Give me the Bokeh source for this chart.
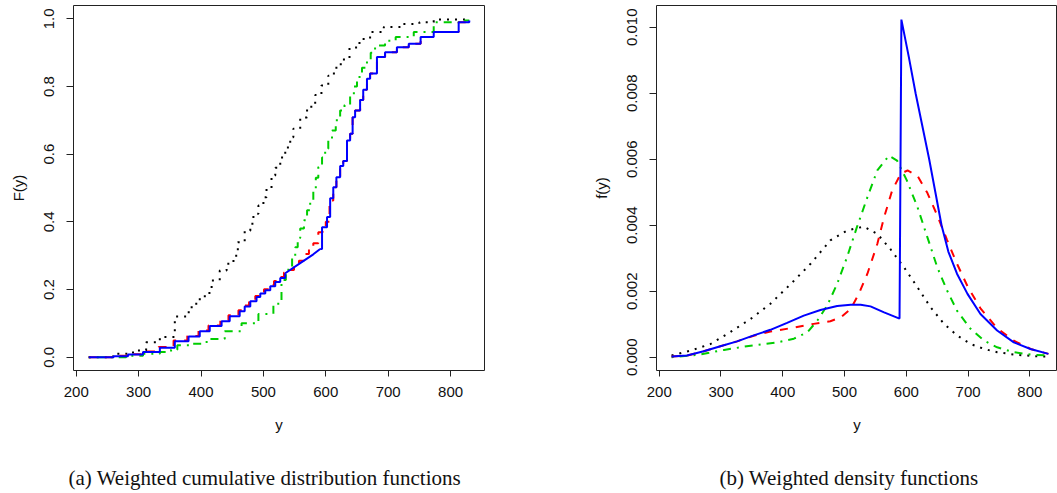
from bokeh.plotting import figure
from bokeh.models import FixedTicker, PrintfTickFormatter, Range1d, Label
from bokeh.layouts import row, column
from bokeh.embed import file_html
from bokeh.resources import INLINE

# ---------------- data: (a) weighted CDFs (step functions) ----------------
black_cdf_x = [220, 259, 291, 312, 334, 358, 377, 385, 398, 409, 417, 430, 441, 452, 459, 470,
               479, 484, 492, 500, 505, 513, 519, 527, 535, 543, 548, 559, 570, 583, 593, 604,
               613, 624, 638, 654, 671, 693, 720, 750, 773, 830]
black_cdf_y = [0.000, 0.010, 0.020, 0.044, 0.060, 0.120, 0.133, 0.158, 0.180, 0.190, 0.227, 0.256,
               0.276, 0.300, 0.340, 0.374, 0.394, 0.424, 0.448, 0.473, 0.498, 0.537, 0.560, 0.590,
               0.620, 0.650, 0.675, 0.708, 0.740, 0.775, 0.803, 0.832, 0.855, 0.880, 0.915, 0.940,
               0.961, 0.976, 0.985, 0.990, 0.998, 1.000]

green_cdf_x = [220, 280, 307, 334, 352, 362, 386, 409, 438, 465, 492, 516, 529, 536, 540, 546,
               551, 555, 559, 565, 570, 575, 580, 584, 588, 594, 599, 604, 610, 616, 623, 630,
               639, 645, 650, 658, 666, 672, 679, 695, 712, 741, 773, 813, 830]
green_cdf_y = [0.000, 0.004, 0.010, 0.015, 0.022, 0.035, 0.040, 0.054, 0.077, 0.100, 0.128, 0.158,
               0.228, 0.250, 0.266, 0.295, 0.325, 0.352, 0.380, 0.405, 0.434, 0.465, 0.498, 0.530,
               0.562, 0.590, 0.616, 0.645, 0.670, 0.700, 0.729, 0.745, 0.774, 0.800, 0.828, 0.855,
               0.877, 0.900, 0.921, 0.935, 0.946, 0.961, 0.990, 0.995, 0.995]

red_cdf_x = [220, 258, 281, 305, 332, 356, 378, 396, 412, 431, 444, 460, 468, 477, 487, 493,
             501, 509, 517, 525, 533, 541, 549, 557, 565, 573, 580, 588, 595, 600, 606, 612,
             617, 623, 628, 634, 639, 643, 647, 655, 660, 666, 671, 682, 695, 714, 733, 752,
             773, 813, 830]
red_cdf_y = [0.000, 0.004, 0.009, 0.017, 0.030, 0.049, 0.063, 0.079, 0.094, 0.109, 0.124, 0.139,
             0.153, 0.168, 0.181, 0.191, 0.201, 0.213, 0.225, 0.237, 0.250, 0.258, 0.272, 0.285,
             0.305, 0.322, 0.337, 0.369, 0.385, 0.400, 0.463, 0.502, 0.532, 0.565, 0.580, 0.640,
             0.660, 0.709, 0.729, 0.760, 0.790, 0.823, 0.838, 0.887, 0.901, 0.916, 0.926, 0.946,
             0.961, 0.990, 0.995]

blue_cdf_low_x = [220, 260, 283, 307, 334, 358, 380, 398, 414, 433, 446, 462, 470, 479, 489, 495,
                  503, 511, 519, 527, 535]
blue_cdf_low_y = [0.000, 0.003, 0.008, 0.015, 0.028, 0.047, 0.061, 0.077, 0.092, 0.106, 0.121,
                  0.136, 0.150, 0.165, 0.178, 0.188, 0.198, 0.210, 0.222, 0.234, 0.248]
blue_cdf_mid_x = [535, 559, 580, 591]
blue_cdf_mid_y = [0.248, 0.278, 0.304, 0.320]
blue_cdf_high_x = [591, 594, 602, 607, 612, 617, 623, 628, 634, 639, 643, 647, 655, 660, 666, 671,
                   682, 695, 714, 733, 752, 773, 813, 830]
blue_cdf_high_y = [0.320, 0.384, 0.414, 0.470, 0.502, 0.532, 0.565, 0.580, 0.640, 0.660, 0.709,
                   0.729, 0.760, 0.790, 0.823, 0.838, 0.887, 0.901, 0.916, 0.926, 0.946, 0.961,
                   0.990, 0.995]

# ---------------- data: (b) weighted densities ----------------
black_pdf_x = [220, 251, 283, 315, 348, 380, 413, 445, 477, 504, 531, 553, 574, 596, 618, 639,
               661, 682, 704, 726, 747, 779, 817, 830]
black_pdf_y = [0.00005, 0.00020, 0.00040, 0.00076, 0.00116, 0.00162, 0.00222, 0.00283, 0.00354,
               0.00384, 0.00396, 0.00374, 0.00328, 0.00273, 0.00212, 0.00152, 0.00101, 0.00066,
               0.00040, 0.00025, 0.00015, 0.00007, 0.00002, 0.00002]

green_pdf_x = [220, 262, 305, 348, 391, 418, 440, 456, 472, 488, 504, 520, 537, 553, 572, 585,
               601, 618, 634, 650, 666, 682, 704, 726, 747, 774, 801, 830]
green_pdf_y = [0.00000, 0.00007, 0.00022, 0.00035, 0.00045, 0.00056, 0.00076, 0.00111, 0.00157,
               0.00222, 0.00303, 0.00394, 0.00485, 0.00566, 0.00611, 0.00596, 0.00535, 0.00455,
               0.00364, 0.00273, 0.00202, 0.00141, 0.00086, 0.00050, 0.00030, 0.00015, 0.00008,
               0.00005]

red_pdf_x = [220, 245, 272, 299, 326, 353, 380, 413, 450, 477, 494, 510, 523, 537, 553, 564,
             577, 591, 602, 618, 634, 650, 666, 682, 699, 720, 747, 774, 801, 830]
red_pdf_y = [0.00002, 0.00005, 0.00018, 0.00033, 0.00048, 0.00065, 0.00078, 0.00088, 0.00101,
             0.00109, 0.00121, 0.00146, 0.00192, 0.00253, 0.00343, 0.00424, 0.00505, 0.00556,
             0.00566, 0.00550, 0.00498, 0.00430, 0.00355, 0.00283, 0.00215, 0.00148, 0.00088,
             0.00050, 0.00025, 0.00010]

blue_pdf_x = [220, 245, 272, 299, 326, 353, 380, 407, 434, 461, 488, 510, 526, 542, 564, 589,
              592, 604, 615, 626, 637, 647, 657, 668, 682, 699, 720, 747, 774, 801, 830]
blue_pdf_y = [0.00002, 0.00005, 0.00018, 0.00033, 0.00048, 0.00066, 0.00083, 0.00104, 0.00126,
              0.00143, 0.00155, 0.00159, 0.00159, 0.00154, 0.00136, 0.00117, 0.01023, 0.00910,
              0.00800, 0.00700, 0.00600, 0.00500, 0.00400, 0.00320, 0.00253, 0.00192, 0.00131,
              0.00081, 0.00045, 0.00025, 0.00010]

cdf_ticks = [0.0, 0.2, 0.4, 0.6, 0.8, 1.0]
pdf_ticks = [0.000, 0.002, 0.004, 0.006, 0.008, 0.010]
x_ticks = [200, 300, 400, 500, 600, 700, 800]

caption_a = "(a) Weighted cumulative distribution functions"
caption_b = "(b) Weighted density functions"

# ---------------- styles ----------------
SANS = "Liberation Sans"
SERIF = "Liberation Serif"
BLACK = "#000000"
RED = "#FF0000"
GREEN = "#00CD00"
BLUE = "#0000FF"

PLOT_H = 440
CAP_H = 53
FRAME_TOP = 5
FRAME_BOTTOM = 370


def make_fig(width, bl, br, xr, yr, yticks, yfmt, yb, ylabel):
    p = figure(width=width, height=PLOT_H, output_backend="svg", toolbar_location=None,
               x_range=Range1d(*xr), y_range=Range1d(*yr),
               min_border_left=bl, min_border_right=br, min_border_top=FRAME_TOP,
               min_border_bottom=PLOT_H - FRAME_BOTTOM)
    p.xgrid.visible = False
    p.ygrid.visible = False
    p.background_fill_color = "white"
    p.border_fill_color = "white"
    p.outline_line_color = "#222222"
    p.outline_line_width = 1
    for ax in (p.xaxis[0], p.yaxis[0]):
        ax.axis_line_color = "#222222"
        ax.major_tick_line_color = "#222222"
        ax.minor_tick_line_color = None
        ax.major_tick_in = 0
        ax.major_label_text_font = SANS
        ax.major_label_text_font_size = "15px"
        ax.major_label_text_color = "#111111"
        ax.axis_label_text_font = SANS
        ax.axis_label_text_font_size = "15px"
        ax.axis_label_text_font_style = "normal"
        ax.axis_label_text_color = "#111111"
    xa = p.xaxis[0]
    xa.ticker = FixedTicker(ticks=x_ticks)
    xa.bounds = (x_ticks[0], x_ticks[-1])
    xa.major_tick_out = 6
    xa.major_label_standoff = 10
    xa.axis_label = "y"
    xa.axis_label_standoff = 16
    ya = p.yaxis[0]
    ya.ticker = FixedTicker(ticks=yticks)
    ya.formatter = PrintfTickFormatter(format=yfmt)
    ya.bounds = yb
    ya.major_tick_out = 7
    ya.major_label_standoff = 12
    ya.major_label_orientation = "vertical"
    ya.axis_label = ylabel
    ya.axis_label_standoff = 15
    return p


def make_caption(width, text, left):
    c = figure(width=width, height=CAP_H, output_backend="svg", toolbar_location=None,
               x_axis_type=None, y_axis_type=None, x_range=Range1d(0, width),
               y_range=Range1d(0, CAP_H), min_border=0)
    c.min_border_left = 0
    c.min_border_right = 0
    c.min_border_top = 0
    c.min_border_bottom = 0
    c.outline_line_color = None
    c.xgrid.visible = False
    c.ygrid.visible = False
    c.background_fill_color = "white"
    c.border_fill_color = "white"
    c.add_layout(Label(x=left, y=CAP_H - (477 - PLOT_H), x_units="screen", y_units="screen",
                       text=text, text_font=SERIF, text_font_size="21px",
                       text_color="#111111", text_align="left", text_baseline="middle"))
    return c


p1 = make_fig(560, 73, 76, (195.6, 854.4), (-0.0393, 1.0393), cdf_ticks, "%.1f", (0, 1), "F(y)")
p1.step(black_cdf_x, black_cdf_y, mode="after", line_color=BLACK, line_width=2, line_dash="2 6")
p1.step(green_cdf_x, green_cdf_y, mode="after", line_color=GREEN, line_width=2,
        line_dash="2 6 8 6")
p1.step(red_cdf_x, red_cdf_y, mode="after", line_color=RED, line_width=2, line_dash="8 8")
p1.step(blue_cdf_low_x, blue_cdf_low_y, mode="after", line_color=BLUE, line_width=2)
p1.line(blue_cdf_mid_x, blue_cdf_mid_y, line_color=BLUE, line_width=2)
p1.step(blue_cdf_high_x, blue_cdf_high_y, mode="after", line_color=BLUE, line_width=2)

p2 = make_fig(497, 96, 0, (195.6, 844.7), (-0.000403, 0.010658), pdf_ticks, "%.3f", (0, 0.010),
              "f(y)")
p2.line(black_pdf_x, black_pdf_y, line_color=BLACK, line_width=2, line_dash="2 6")
p2.line(green_pdf_x, green_pdf_y, line_color=GREEN, line_width=2, line_dash="2 6 8 6")
p2.line(red_pdf_x, red_pdf_y, line_color=RED, line_width=2, line_dash="8 8")
p2.line(blue_pdf_x, blue_pdf_y, line_color=BLUE, line_width=2)

c1 = make_caption(560, caption_a, 68)
c2 = make_caption(497, caption_b, 719 - 560)

layout = column(row(p1, p2), row(c1, c2))
open("out.html", "w").write(file_html(layout, INLINE))
